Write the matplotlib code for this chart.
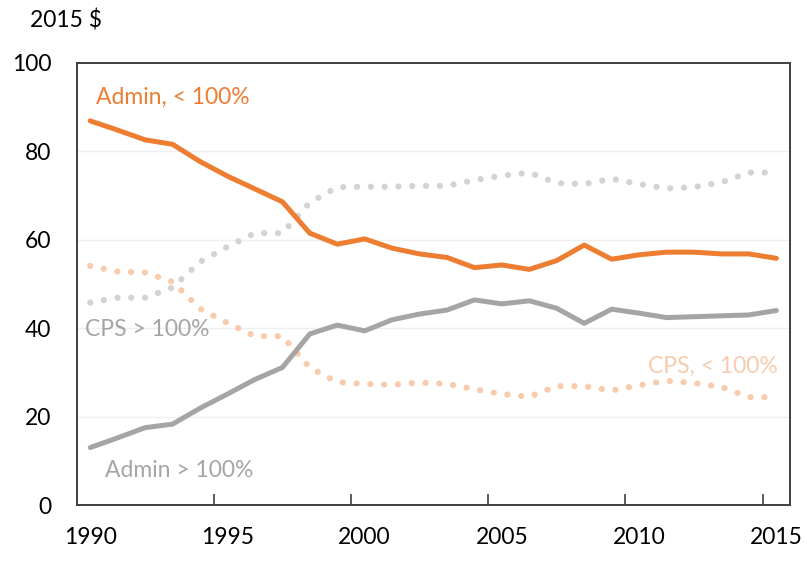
import numpy as np
import matplotlib
matplotlib.use("Agg")
import matplotlib.pyplot as plt
from matplotlib.ticker import FixedLocator

years = list(range(1990, 2016))

admin_lt100 = [86.9, 84.8, 82.6, 81.6, 77.7, 74.4, 71.5, 68.6, 61.5, 59.0,
               60.2, 58.1, 56.8, 56.0, 53.7, 54.3, 53.3, 55.3, 58.8, 55.6,
               56.6, 57.2, 57.2, 56.8, 56.8, 55.8]
admin_gt100 = [13.0, 15.2, 17.5, 18.3, 21.9, 25.1, 28.4, 31.1, 38.7, 40.7,
               39.4, 41.9, 43.2, 44.1, 46.4, 45.5, 46.2, 44.5, 41.1, 44.3,
               43.4, 42.4, 42.6, 42.8, 43.0, 44.0]
cps_gt100 = [45.8, 46.9, 46.9, 49.2, 55.0, 58.4, 61.5, 61.5, 68.4, 71.9,
             72.0, 72.0, 72.2, 72.2, 73.5, 74.5, 75.2, 72.8, 72.6, 73.8,
             72.6, 71.6, 71.9, 73.0, 75.2, 75.2]
cps_lt100 = [54.1, 52.8, 52.6, 50.5, 44.4, 41.2, 38.2, 38.2, 31.1, 27.8,
             27.4, 27.2, 27.7, 27.4, 26.2, 25.1, 24.5, 26.9, 26.9, 25.9,
             27.1, 28.1, 27.6, 26.7, 24.4, 24.4]

label_years = [1990, 1995, 2000, 2005, 2010, 2015]
y_ticks = [0, 20, 40, 60, 80, 100]

orange = "#ED7D31"
gray = "#A5A5A5"
light_orange = "#F8CBAD"
light_gray = "#D3D3D3"

plt.rcParams['font.family'] = ['Lato', 'DejaVu Sans']
fs = 16.5

fig = plt.figure(figsize=(8.07, 5.67), dpi=100)
ax = fig.add_axes([0.0948, 0.1093, 0.979 - 0.0948, 0.889 - 0.1093])

# dotted series: round dots about 14 px apart
dot = (0, (0.01, 2.2))
ax.plot(years, cps_gt100, color=light_gray, lw=4.5, linestyle=dot,
        dash_capstyle="round", zorder=2)
ax.plot(years, cps_lt100, color=light_orange, lw=4.5, linestyle=dot,
        dash_capstyle="round", zorder=2)
ax.plot(years, admin_gt100, color=gray, lw=3.6, solid_capstyle="round",
        solid_joinstyle="round", zorder=3)
ax.plot(years, admin_lt100, color=orange, lw=3.6, solid_capstyle="round",
        solid_joinstyle="round", zorder=3)

ax.set_xlim(1989.5, 2015.5)
ax.set_ylim(0, 100)

ax.set_yticks(y_ticks)
ax.set_yticklabels([str(v) for v in y_ticks])
ax.tick_params(axis="y", length=0, pad=18, labelsize=fs)
ax.set_xticks(label_years)
ax.set_xticklabels([str(y) for y in label_years])
ax.tick_params(axis="x", which="major", length=0, pad=16, labelsize=fs)
ax.xaxis.set_minor_locator(FixedLocator([y - 0.5 for y in label_years[1:]]))
ax.tick_params(axis="x", which="minor", direction="in", length=8,
               width=1.2, color="#404040")

for v in y_ticks[1:-1]:
    ax.axhline(v, color="#EFEFEF", lw=1, zorder=1)

for s in ax.spines.values():
    s.set_color("#404040")
    s.set_linewidth(1.4)

ax.text(1990.2, 92.3, "Admin, < 100%", color=orange, fontsize=fs, va="center")
ax.text(1989.8, 39.8, "CPS > 100%", color=gray, fontsize=fs, va="center")
ax.text(1990.55, 7.9, "Admin > 100%", color=gray, fontsize=fs, va="center")
ax.text(2015.05, 31.3, "CPS, < 100%", color=light_orange, fontsize=fs,
        va="center", ha="right")
fig.text(30 / 807, 1 - 20 / 567, "2015 $", fontsize=fs, va="center")

fig.savefig("out.png", dpi=100)
